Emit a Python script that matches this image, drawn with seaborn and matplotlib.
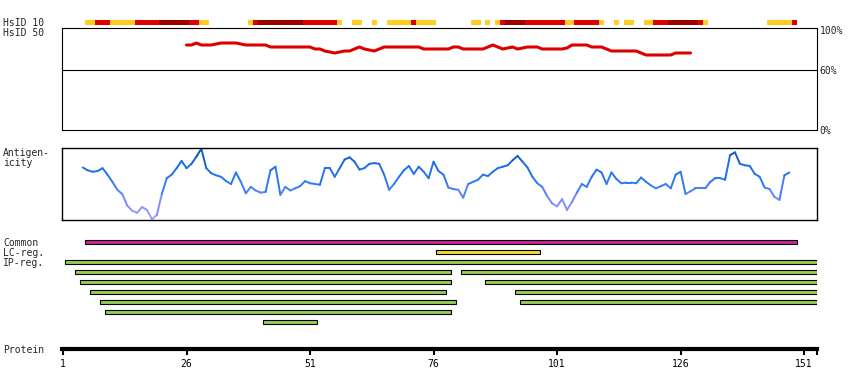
import numpy as np
import matplotlib.pyplot as plt
import seaborn as sns
from matplotlib.collections import LineCollection
from matplotlib.colors import LinearSegmentedColormap

sns.set_style("white")
plt.rcParams['font.family'] = ['DejaVu Sans Mono', 'DejaVu Sans']

# HsID 10 segments (residue ranges, level 1=low, 2=mid, 3=high)
hsid10_start = [6, 8, 11, 16, 21, 27, 29, 39, 40, 41, 50, 57, 60, 64, 67, 72, 73,
                84, 87, 89, 90, 91, 95, 103, 105, 110, 113, 115, 119, 121, 124, 130, 131, 144, 149]
hsid10_end = [7, 10, 15, 20, 26, 28, 30, 39, 40, 49, 56, 57, 61, 64, 71, 72, 76,
              85, 87, 89, 90, 94, 102, 104, 109, 110, 113, 116, 120, 123, 129, 130, 131, 148, 149]
hsid10_level = [1, 2, 1, 2, 3, 2, 1, 1, 2, 3, 2, 1, 1, 1, 1, 2, 1,
                1, 1, 1, 2, 3, 2, 1, 2, 1, 1, 1, 1, 2, 3, 2, 1, 1, 2]

# HsID 50 identity (%) for residues 26..128
hsid50_pos = list(range(26, 129))
hsid50_val = [85, 85, 87, 85, 85, 85, 86, 87, 87, 87,
              87, 86, 85, 85, 85, 85, 85, 83, 83, 83,
              83, 83, 83, 83, 83, 83, 81, 81, 79, 78,
              77, 78, 79, 79, 81, 83, 81, 80, 79, 81,
              83, 83, 83, 83, 83, 83, 83, 83, 81, 81,
              81, 81, 81, 81, 83, 83, 81, 81, 81, 81,
              81, 83, 85, 83, 81, 82, 83, 81, 82, 83,
              83, 83, 81, 81, 81, 81, 81, 82, 85, 85,
              85, 85, 83, 83, 83, 81, 79, 79, 79, 79,
              79, 79, 77, 75, 75, 75, 75, 75, 75, 77,
              77, 77, 77]

# Antigenicity score for residues 5..148
antig_pos = list(range(5, 149))
antig_val = [0.73, 0.69, 0.67, 0.68, 0.72, 0.63, 0.53, 0.42, 0.36, 0.20,
             0.13, 0.10, 0.18, 0.14, 0.01, 0.07, 0.36, 0.58, 0.63, 0.72,
             0.82, 0.72, 0.78, 0.88, 0.99, 0.72, 0.65, 0.62, 0.60, 0.54,
             0.50, 0.66, 0.53, 0.37, 0.46, 0.41, 0.38, 0.39, 0.69, 0.74,
             0.35, 0.46, 0.41, 0.44, 0.47, 0.54, 0.51, 0.50, 0.49, 0.72,
             0.72, 0.60, 0.72, 0.84, 0.87, 0.81, 0.70, 0.72, 0.78, 0.79,
             0.78, 0.63, 0.42, 0.50, 0.60, 0.69, 0.75, 0.64, 0.74, 0.67,
             0.58, 0.81, 0.68, 0.63, 0.45, 0.43, 0.42, 0.31, 0.50, 0.53,
             0.56, 0.63, 0.61, 0.67, 0.72, 0.74, 0.76, 0.83, 0.89, 0.81,
             0.73, 0.60, 0.51, 0.46, 0.33, 0.23, 0.19, 0.29, 0.14, 0.25,
             0.38, 0.50, 0.46, 0.60, 0.70, 0.66, 0.50, 0.66, 0.57, 0.51,
             0.52, 0.52, 0.51, 0.59, 0.53, 0.48, 0.44, 0.47, 0.50, 0.44,
             0.63, 0.67, 0.36, 0.40, 0.44, 0.44, 0.44, 0.53, 0.58, 0.58,
             0.56, 0.90, 0.94, 0.78, 0.76, 0.75, 0.64, 0.60, 0.45, 0.43,
             0.32, 0.28, 0.62, 0.66]

# region tracks
region_kind = ['Common', 'LC-reg.', 'IP-reg.', 'IP-reg.', 'IP-reg.', 'IP-reg.', 'IP-reg.',
               'IP-reg.', 'IP-reg.', 'IP-reg.', 'IP-reg.', 'IP-reg.', 'IP-reg.']
region_row = [0, 1, 2, 3, 3, 4, 4, 5, 5, 6, 6, 7, 8]
region_start = [6, 77, 2, 4, 82, 5, 87, 7, 93, 9, 94, 10, 42]
region_end = [149, 97, 153, 79, 153, 79, 153, 78, 153, 80, 153, 79, 52]

prot_ticks = [1, 26, 51, 76, 101, 126, 151]
prot_len = 153.6

level_colors = {1: '#FFCC22', 2: '#DD0000', 3: '#990000'}
kind_colors = {'Common': '#CC2299', 'LC-reg.': '#EEDD33', 'IP-reg.': '#99CC55'}

W, H = 850, 390
fig = plt.figure(figsize=(W / 100, H / 100), dpi=100)
XL = (0.8, prot_len)


def px_axes(x0, y0, x1, y1):
    return fig.add_axes([x0 / W, 1 - y1 / H, (x1 - x0) / W, (y1 - y0) / H])


def clean(ax):
    ax.set_xlim(*XL)
    ax.set_xticks([])
    ax.set_yticks([])
    for s in ax.spines.values():
        s.set_visible(False)


# HsID 10 track
ax10 = px_axes(62, 20, 817, 25)
clean(ax10)
ax10.set_ylim(0, 1)
for s, e, lv in zip(hsid10_start, hsid10_end, hsid10_level):
    ax10.bar(s - 0.5, 1, width=e - s + 1, align='edge', color=level_colors[lv], linewidth=0)

# HsID 50 panel
ax50 = px_axes(62, 28, 817, 130)
ax50.set_xlim(*XL)
ax50.set_ylim(0, 102)
sns.lineplot(x=hsid50_pos, y=hsid50_val, ax=ax50, color='#DD0000', linewidth=2.2)
ax50.axhline(60, color='black', linewidth=0.8)
ax50.set_xticks([])
ax50.yaxis.tick_right()
ax50.set_yticks([0, 60, 100])
ax50.set_yticklabels(['0%', '60%', '100%'], fontsize=7)
ax50.tick_params(axis='y', length=0, pad=2)
for s in ax50.spines.values():
    s.set_color('black')
    s.set_linewidth(0.8)

# Antigenicity panel
axag = px_axes(62, 148, 817, 220)
axag.set_xlim(*XL)
axag.set_ylim(0, 1)
axag.set_xticks([])
axag.set_yticks([])
for s in axag.spines.values():
    s.set_color('black')
    s.set_linewidth(1.0)
cmap = LinearSegmentedColormap.from_list(
    'ag', [(0, '#AA9EFF'), (0.3, '#7088FF'), (0.5, '#2E7BF5'), (0.78, '#1C6BE2'), (1.0, '#0A4A9C')])
pts = np.column_stack([antig_pos, antig_val])
segs = np.stack([pts[:-1], pts[1:]], axis=1)
mid = (np.array(antig_val[:-1]) + np.array(antig_val[1:])) / 2
lc = LineCollection(segs, colors=cmap(mid), linewidths=1.4, capstyle='round')
axag.add_collection(lc)

# Region tracks
axr = px_axes(62, 237, 817, 327)
clean(axr)
axr.set_ylim(8.5, -0.5)
for k, r, s, e in zip(region_kind, region_row, region_start, region_end):
    axr.barh(r, e - s + 1, left=s - 0.5, height=0.42, color=kind_colors[k],
             edgecolor='black', linewidth=0.8)

# Protein axis
axp = px_axes(62, 340, 817, 349)
axp.set_xlim(*XL)
axp.set_yticks([])
for name, s in axp.spines.items():
    s.set_visible(name == 'bottom')
axp.spines['bottom'].set_linewidth(3)
axp.spines['bottom'].set_color('black')
axp.set_xticks(prot_ticks + [prot_len - 0.1])
axp.set_xticklabels([str(t) for t in prot_ticks] + [''], fontsize=7)
axp.tick_params(axis='x', bottom=True, direction='out', length=4, width=1.5, pad=3, colors='black')
axp.patch.set_alpha(0)

# Left labels
labels = [('HsID 10', 22.5), ('HsID 50', 33), ('Antigen-', 153), ('icity', 163),
          ('Common', 243), ('LC-reg.', 253), ('IP-reg.', 263), ('Protein', 350)]
for txt, y in labels:
    fig.text(3 / W, 1 - y / H, txt, fontsize=7, va='center', ha='left')

fig.savefig('out.png', dpi=100)
